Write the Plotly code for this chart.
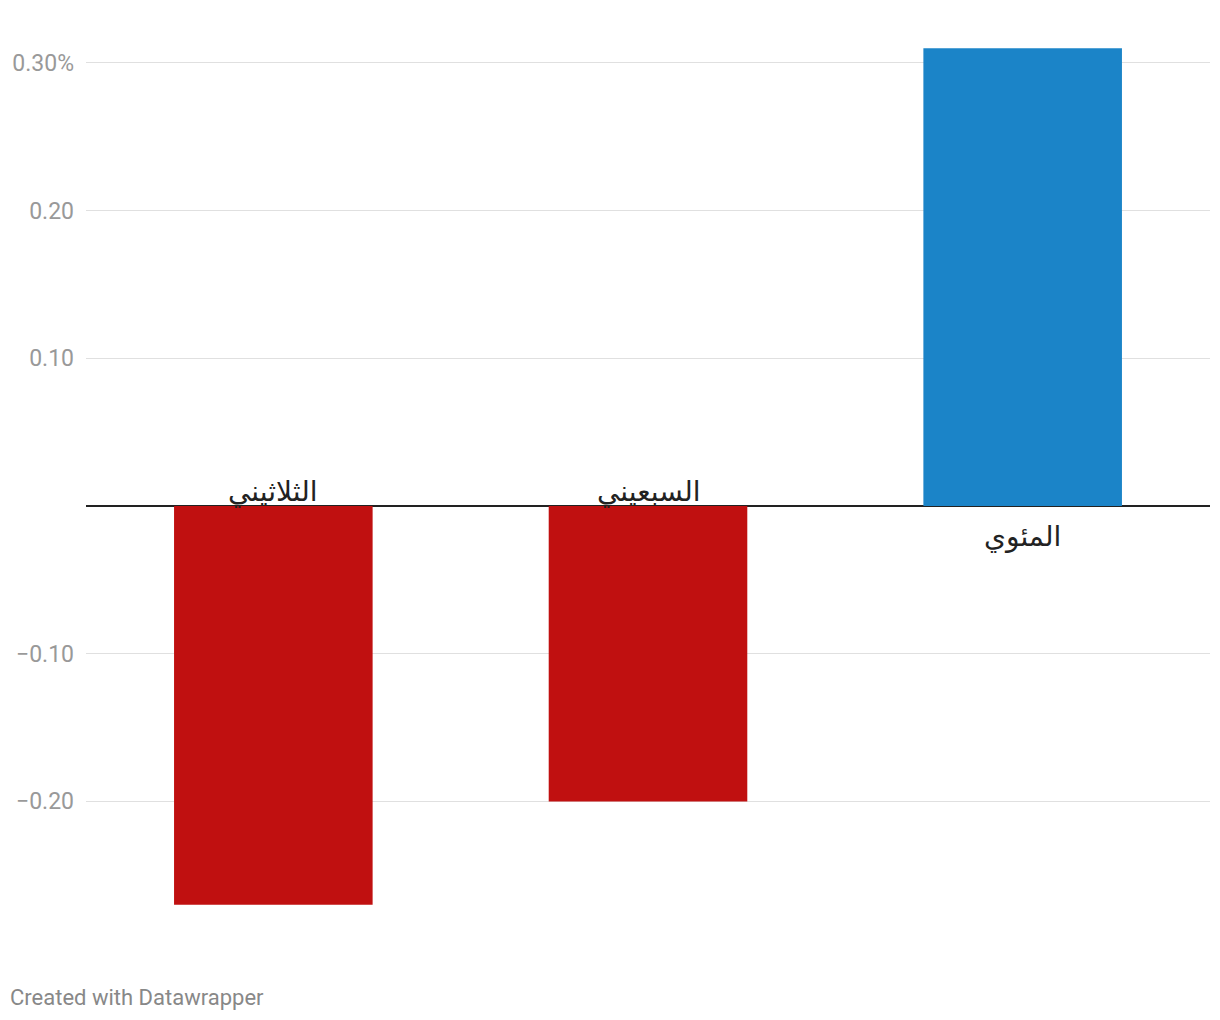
import plotly.graph_objects as go

categories = ["الثلاثيني", "السبعيني", "المئوي"]
values = [-0.27, -0.20, 0.31]
colors = ["#c01010", "#c01010", "#1b84c8"]
tick_vals = [-0.2, -0.1, 0.1, 0.2, 0.3]
tick_text = ["−0.20", "−0.10", "0.10", "0.20", "0.30%"]

W, H = 1220, 1020
L, R, T, B = 86, 10, 40, 90
pw, ph = W - L - R, H - T - B

fig = go.Figure()
fig.add_trace(go.Bar(x=categories, y=values, marker=dict(color=colors, line=dict(width=0)),
                     hoverinfo="skip"))

for c, v in zip(categories, values):
    fig.add_annotation(x=c, y=0, xref="x", yref="y", text=c, showarrow=False,
                       yanchor="bottom" if v < 0 else "top",
                       yshift=-4 if v < 0 else -12,
                       font=dict(family="DejaVu Sans, sans-serif", size=28, color="#222222"))

fig.add_annotation(xref="paper", yref="paper", x=(8 - L) / pw, y=(H - B - 997) / ph,
                   xanchor="left", yanchor="middle", showarrow=False,
                   text="Created with Datawrapper",
                   font=dict(family="Roboto, sans-serif", size=22, color="#888888"))

fig.update_layout(
    width=W, height=H, margin=dict(l=L, r=R, t=T, b=B),
    paper_bgcolor="white", plot_bgcolor="white",
    bargap=0.47, showlegend=False,
    xaxis=dict(visible=False),
    yaxis=dict(range=[-(930 - 506) / 1477, (506 - 40) / 1477],
               tickvals=tick_vals, ticktext=tick_text,
               showgrid=True, gridcolor="#e0e0e0", gridwidth=1,
               zeroline=True, zerolinecolor="#222222", zerolinewidth=1.5,
               ticks="", ticklabelstandoff=11,
               tickfont=dict(family="Roboto, sans-serif", size=23, color="#999999"),
               showline=False),
)
fig.write_html("out.html")
